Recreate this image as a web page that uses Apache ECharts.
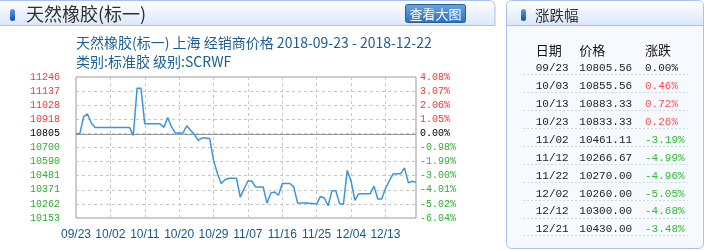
<!DOCTYPE html>
<html>
<head>
<meta charset="utf-8">
<script src="https://cdn.jsdelivr.net/npm/echarts@6/dist/echarts.min.js"></script>
<style>
html,body{margin:0;padding:0;background:#fff;}
#c{width:706px;height:250px;}
</style>
</head>
<body>
<div id="c"></div>
<script>
// ---- data ----
const startDate = '2018-09-23';
const dayCount = 90;
const prices = [
  10805.56, 10805.56, 10939, 10960, 10890, 10855.56, 10855.56, 10855.56, 10855.56, 10855.56,
  10855.56, 10855.56, 10855.56, 10855.56, 10855.56, 10794, 11160, 11160, 10883.33, 10883.33,
  10883.33, 10883.33, 10883.33, 10855.56, 10932, 10860, 10813, 10813, 10813, 10868,
  10833.33, 10800, 10755, 10774, 10774, 10770, 10600, 10500, 10420, 10450,
  10461.11, 10461.11, 10461.11, 10315, 10380, 10440, 10440, 10394, 10394, 10394,
  10266.67, 10347, 10355, 10329, 10420, 10420, 10420, 10394, 10270, 10270,
  10270, 10268, 10266, 10262, 10320, 10308, 10248, 10365, 10365, 10263,
  10260, 10522, 10440, 10290, 10340, 10340, 10340, 10340, 10400, 10300,
  10300, 10380, 10440, 10495, 10497, 10497, 10542, 10425, 10438, 10430
];
const basePrice = 10805.56;
const priceMin = 10152.9;
const priceMax = 11246.4;
const leftTicks = ['11246','11137','11028','10918','10805','10700','10590','10481','10371','10262','10153'];
const rightTicks = ['4.08%','3.07%','2.06%','1.05%','0.00%','-0.98%','-1.99%','-3.00%','-4.01%','-5.02%','-6.04%'];
const tableHeaders = ['日期','价格','涨跌'];
const tableDates = ['09/23','10/03','10/13','10/23','11/02','11/12','11/22','12/02','12/12','12/21'];
const tablePrices = ['10805.56','10855.56','10883.33','10833.33','10461.11','10266.67','10270.00','10260.00','10300.00','10430.00'];
const tableChanges = ['0.00%','0.46%','0.72%','0.26%','-3.19%','-4.99%','-4.96%','-5.05%','-4.68%','-3.48%'];
const panelTitle = '天然橡胶(标一)';
const subTitle1 = '天然橡胶(标一) 上海 经销商价格 2018-09-23 - 2018-12-22';
const subTitle2 = '类别:标准胶 级别:SCRWF';
const buttonText = '查看大图';
const sideTitle = '涨跌幅';

// categories (calendar days)
const dates = [];
(function(){
  const d0 = new Date(startDate + 'T00:00:00Z');
  for (let i = 0; i < dayCount; i++) {
    const d = new Date(d0.getTime() + i * 86400000);
    const mm = String(d.getUTCMonth() + 1).padStart(2, '0');
    const dd = String(d.getUTCDate()).padStart(2, '0');
    dates.push(mm + '/' + dd);
  }
})();

// ---- styles ----
const RED = '#ff3333', GREEN = '#2fae2f', BLACK = '#000';
const TRED = '#ff4d4d', TGREEN = '#33bb33';
const CJK = '"Noto Sans CJK SC", "Noto Sans", sans-serif';
const MONO = '"Liberation Mono", "DejaVu Sans Mono", monospace';

function tickRich(list) {
  return function (v) {
    const i = 10 - Math.round(v);
    const t = list[i];
    const k = i < 4 ? 'r' : (i === 4 ? 'k' : 'g');
    return '{' + k + '|' + t + '}';
  };
}
const rich = {
  r: {color: RED, fontFamily: MONO, fontSize: 10},
  k: {color: BLACK, fontFamily: MONO, fontSize: 10},
  g: {color: GREEN, fontFamily: MONO, fontSize: 10}
};

// ---- graphic (panels, titles, table) ----
const hdrGrad = {type: 'linear', x: 0, y: 0, x2: 0, y2: 1,
  colorStops: [{offset: 0, color: '#ffffff'}, {offset: 1, color: '#dbe7fb'}]};
const pillGrad = {type: 'linear', x: 0, y: 0, x2: 0, y2: 1,
  colorStops: [{offset: 0, color: '#5b9bea'}, {offset: 1, color: '#0f4fb4'}]};
const btnGrad = {type: 'linear', x: 0, y: 0, x2: 0, y2: 1,
  colorStops: [{offset: 0, color: '#67a8e4'}, {offset: 1, color: '#2a70bb'}]};

const graphics = [];
// left header band
graphics.push({type: 'rect', z: 0, shape: {x: -6, y: 0.5, width: 501, height: 25, r: [0, 6, 0, 0]},
  style: {fill: hdrGrad, stroke: '#a9c0f0', lineWidth: 1}});
graphics.push({type: 'rect', shape: {x: 10, y: 9, width: 5, height: 12, r: 2.5}, style: {fill: pillGrad}});
graphics.push({type: 'text', x: 26, y: 14, style: {text: panelTitle, font: '18px ' + CJK, fill: '#2e2e2e', textVerticalAlign: 'middle'}});
// button
graphics.push({type: 'rect', shape: {x: 405.5, y: 4.5, width: 60, height: 18, r: 2},
  style: {fill: btnGrad, stroke: '#2b5f9c', lineWidth: 1}});
graphics.push({type: 'text', x: 435.5, y: 14, style: {text: buttonText, font: '13px ' + CJK, fill: '#fff', textAlign: 'center', textVerticalAlign: 'middle'}});
// subtitles
graphics.push({type: 'text', x: 76, y: 43, style: {text: subTitle1, font: '14px ' + CJK, fill: '#1b5e8f', textVerticalAlign: 'middle'}});
graphics.push({type: 'text', x: 76, y: 62, style: {text: subTitle2, font: '14px ' + CJK, fill: '#1b5e8f', textVerticalAlign: 'middle'}});
// right panel
graphics.push({type: 'rect', shape: {x: 506.5, y: 0.5, width: 197, height: 248, r: 5},
  style: {fill: '#f6f9fe', stroke: '#a9c0f0', lineWidth: 1}});
graphics.push({type: 'rect', shape: {x: 507, y: 1, width: 196, height: 24, r: [5, 5, 0, 0]},
  style: {fill: hdrGrad}});
graphics.push({type: 'line', shape: {x1: 507, y1: 25.5, x2: 703, y2: 25.5}, style: {stroke: '#a9c0f0', lineWidth: 1}});
graphics.push({type: 'rect', shape: {x: 521, y: 9, width: 5, height: 12, r: 2.5}, style: {fill: pillGrad}});
graphics.push({type: 'text', x: 535, y: 15, style: {text: sideTitle, font: '14.5px ' + CJK, fill: '#2e2e2e', textVerticalAlign: 'middle'}});
// table
const colX = [535.7, 579.3, 645];
tableHeaders.forEach(function (h, j) {
  graphics.push({type: 'text', x: colX[j], y: 50, style: {text: h, font: '13px ' + CJK, fill: '#111', textVerticalAlign: 'middle'}});
});
tableDates.forEach(function (d, i) {
  const y = 68.3 + i * 17.9;
  const ch = tableChanges[i];
  const v = parseFloat(ch);
  const col = v > 0 ? TRED : (v < 0 ? TGREEN : '#222');
  graphics.push({type: 'text', x: colX[0], y: y, style: {text: d, font: '11px ' + MONO, fill: '#222', textVerticalAlign: 'middle'}});
  graphics.push({type: 'text', x: colX[1], y: y, style: {text: tablePrices[i], font: '11px ' + MONO, fill: '#222', textVerticalAlign: 'middle'}});
  graphics.push({type: 'text', x: colX[2], y: y, style: {text: ch, font: '11px ' + MONO, fill: col, textVerticalAlign: 'middle'}});
  const ly = Math.round(y + 6) + 0.5;
  graphics.push({type: 'line', shape: {x1: 523, y1: ly, x2: 688, y2: ly}, style: {stroke: '#c6d7f0', lineWidth: 1, lineDash: [2, 2]}});
});

const chart = echarts.init(document.getElementById('c'), null, {renderer: 'canvas'});
chart.setOption({
  animation: false,
  backgroundColor: '#fff',
  graphic: graphics,
  grid: {left: 76, top: 77, width: 340, height: 141, show: true, borderColor: '#999', borderWidth: 1, backgroundColor: 'transparent'},
  xAxis: {
    type: 'category', data: dates, boundaryGap: false,
    axisLine: {show: false}, axisTick: {show: false},
    axisLabel: {interval: 8, color: '#155888', fontSize: 12, fontFamily: '"Liberation Sans", Arial, sans-serif', margin: 11},
    splitLine: {show: true, interval: 8, showMinLine: false, lineStyle: {color: '#c8c8c8', type: [3, 3], width: 1}}
  },
  yAxis: [
    {type: 'value', min: priceMin, max: priceMax, show: false, splitLine: {show: false}},
    {type: 'value', min: 0, max: 10, interval: 1, position: 'left',
      axisLine: {show: false}, axisTick: {show: false},
      axisLabel: {formatter: tickRich(leftTicks), rich: rich, margin: 16},
      splitLine: {show: true, showMinLine: false, showMaxLine: false, lineStyle: {color: '#c8c8c8', type: [3, 3], width: 1}}},
    {type: 'value', min: 0, max: 10, interval: 1, position: 'right',
      axisLine: {show: false}, axisTick: {show: false},
      axisLabel: {formatter: tickRich(rightTicks), rich: rich, margin: 4},
      splitLine: {show: false}}
  ],
  series: [{
    type: 'line', yAxisIndex: 0, data: prices, showSymbol: false, symbol: 'none',
    lineStyle: {color: '#3a97d9', width: 1.5}, z: 3,
    markLine: {silent: true, symbol: 'none', label: {show: false}, z: 2,
      lineStyle: {color: '#999', type: 'solid', width: 1},
      data: [{yAxis: basePrice}]}
  }]
});
</script>
</body>
</html>
